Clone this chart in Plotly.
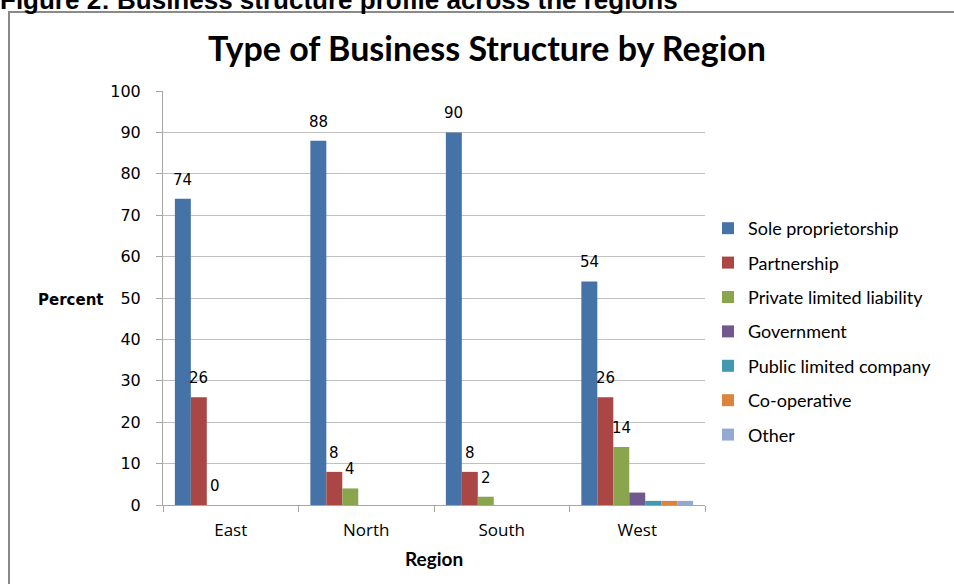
import plotly.graph_objects as go

# Regions on the category axis
regions = ["East", "North", "South", "West"]

# Share of businesses (%) by type of structure
sole_proprietorship = [74, 88, 90, 54]
partnership = [26, 8, 8, 26]
private_limited = [0, 4, 2, 14]
government = [None, None, None, 3]
public_limited = [None, None, None, 1]
co_operative = [None, None, None, 1]
other = [None, None, None, 1]

series_names = ["Sole proprietorship", "Partnership", "Private limited liability",
                "Government", "Public limited company", "Co-operative", "Other"]
series_values = [sole_proprietorship, partnership, private_limited,
                 government, public_limited, co_operative, other]
series_colors = ["#4572A7", "#AA4643", "#89A54E", "#71588F",
                 "#4198AF", "#DB843D", "#93A9CF"]
labelled_series = 3  # value labels on the first three series only

y_ticks = [0, 10, 20, 30, 40, 50, 60, 70, 80, 90, 100]

W, H = 954, 584
ML, MR, MT, MB = 163, 249, 91, 79
PW, PH = W - ML - MR, H - MT - MB


def px_x(p):
    return (p - ML) / PW


def px_y(p):
    return (H - MB - p) / PH


BARGAP = 0.175
n_series = len(series_names)
bar_w = (1 - BARGAP) / n_series

fig = go.Figure()
for name, vals, col in zip(series_names, series_values, series_colors):
    fig.add_trace(go.Bar(
        name=name, x=regions, y=vals, marker=dict(color=col, line=dict(width=0)),
        legendgroup=name,
    ))

# Value labels above the bars
annotations = []
for i in range(labelled_series):
    for j, v in enumerate(series_values[i]):
        if v is None:
            continue
        annotations.append(dict(
            x=j + (i - (n_series - 1) / 2) * bar_w, y=v, xref="x", yref="y",
            text=str(v), showarrow=False, yanchor="middle", yshift=19,
            font=dict(family="DejaVu Sans", size=15, color="#000000"),
        ))

# Figure caption above the chart frame
annotations.append(dict(
    x=px_x(-2), y=px_y(17), xref="paper", yref="paper", xanchor="left", yanchor="bottom",
    text="<b>Figure 2: Business structure profile across the regions</b>", showarrow=False,
    font=dict(family="Liberation Sans", size=26, color="#000000"),
))
# Axis titles
annotations.append(dict(
    x=px_x(70), y=px_y(300), xref="paper", yref="paper", xanchor="center", yanchor="middle",
    text="<b>Percent</b>", showarrow=False,
    font=dict(family="DejaVu Sans", size=15, color="#000000"),
))
annotations.append(dict(
    x=0.5, y=px_y(558), xref="paper", yref="paper", xanchor="center", yanchor="middle",
    text="<b>Region</b>", showarrow=False,
    font=dict(family="Lato", size=19, color="#000000"),
))

# Chart frame (left and top edges are the visible ones)
shapes = [dict(
    type="rect", xref="paper", yref="paper",
    x0=px_x(9), x1=px_x(W + 20), y0=px_y(H + 20), y1=px_y(12),
    line=dict(color="#8a8a8a", width=2), fillcolor="rgba(0,0,0,0)", layer="below",
)]

fig.update_layout(
    width=W, height=H,
    margin=dict(l=ML, r=MR, t=MT, b=MB),
    paper_bgcolor="#ffffff", plot_bgcolor="#ffffff",
    barmode="group", bargap=BARGAP, bargroupgap=0,
    title=dict(
        text="<b>Type of Business Structure by Region</b>",
        x=487 / W, xref="container", xanchor="center",
        y=1 - 49 / H, yref="container", yanchor="middle",
        font=dict(family="Lato", size=34, color="#000000"),
    ),
    font=dict(family="Lato", color="#000000"),
    legend=dict(
        x=px_x(708), y=px_y(210), xanchor="left", yanchor="top",
        font=dict(family="Lato", size=18, color="#000000"),
        tracegroupgap=8, traceorder="grouped", bgcolor="rgba(0,0,0,0)",
    ),
    xaxis=dict(
        type="category", showgrid=False, showline=True, linecolor="#a6a6a6", linewidth=1,
        ticks="outside", tickson="boundaries", ticklen=6, tickcolor="#a6a6a6",
        tickfont=dict(family="Open Sans", size=17, color="#000000"), ticklabelstandoff=10,
        fixedrange=True,
    ),
    yaxis=dict(
        range=[0, 100], tickvals=y_ticks, showgrid=True, gridcolor="#c0c0c0", gridwidth=1,
        showline=True, linecolor="#a6a6a6", linewidth=1, ticks="outside", ticklen=6,
        tickcolor="#a6a6a6", zeroline=False, ticklabelstandoff=12,
        tickfont=dict(family="DejaVu Sans", size=16, color="#000000"),
        fixedrange=True,
    ),
    annotations=annotations,
    shapes=shapes,
    showlegend=True,
)

fig.write_html("out.html")
